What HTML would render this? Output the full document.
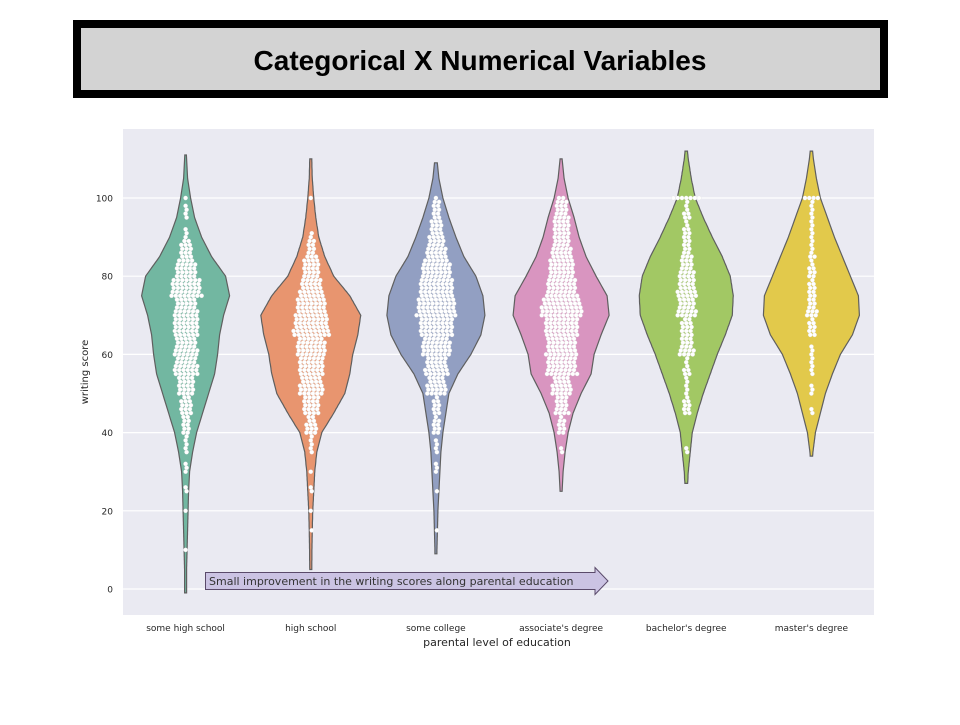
<!DOCTYPE html>
<html><head><meta charset="utf-8">
<style>
body{margin:0;background:#fff;width:960px;height:720px;overflow:hidden;font-family:"Liberation Sans",sans-serif}
svg text{font-family:"DejaVu Sans","Liberation Sans",sans-serif}
</style></head>
<body>
<svg id="c" width="960" height="720" xmlns="http://www.w3.org/2000/svg">
<rect x="73" y="20" width="815" height="78" fill="#000"/>
<rect x="81" y="28" width="799" height="62" fill="#d3d3d3"/>
<text x="480" y="70" text-anchor="middle" font-size="28" font-weight="bold" fill="#000" style="font-family:'Liberation Sans',sans-serif">Categorical X Numerical Variables</text>
<rect x="123" y="129" width="751" height="486" fill="#eaeaf2"/>
<g id="grid"></g><g id="violins"></g><g id="swarm"></g><g id="axes"></g>
<g>
<path d="M205.5,572.5 L595,572.5 L595,567.5 L608,581 L595,594.5 L595,589.5 L205.5,589.5 Z" fill="#cbc3e3" stroke="#5a4a6a" stroke-width="1"/>
<text x="209" y="585" font-size="11" fill="#333">Small improvement in the writing scores along parental education</text>
</g>
<text x="497" y="646" text-anchor="middle" font-size="11" fill="#262626">parental level of education</text>
<text transform="translate(88,372) rotate(-90)" text-anchor="middle" font-size="10" fill="#262626">writing score</text>
</svg>
<script>
const categories=["some high school","high school","some college","associate's degree","bachelor's degree","master's degree"];
const colors=["#72b7a1","#e8956f","#929fc2","#d995c0","#a2c864","#e2c94b"];
const yTicks=[0,20,40,60,80,100];
// violin half-widths (px) at scores 0,5,...,115
const widthsSomeHS=[1,1,1.5,2,2.5,3,4,7,11,17,23,29,32,34,38,44,40,26,16,9,5,2,1,0];
const widthsHS=[1,1,1.2,1.5,2,3,4,6,11,23,34,39,42,47,50,39,23,14,8,5,3,1.5,1,0];
const widthsCollege=[1,1,1,1.5,2,3,4,5,7,10,13,22,35,45,49,47,40,28,20,13,7,3,1,0];
const widthsAssoc=[0,0,0,0,0,1,2,4,7,12,20,30,33,40,48,46,35,25,18,13,7,3,1,0];
const widthsBach=[0,0,0,0,0,1,2,4,6,11,17,24,31,39,46,47,44,36,26,17,9,5,2,0];
const widthsMast=[0,0,0,0,0,0,0,1.5,4,9,14,21,29,41,48,47,39,31,23,16,9,5,2,0];
const violinWidths=[widthsSomeHS,widthsHS,widthsCollege,widthsAssoc,widthsBach,widthsMast];
const violinLo=[-1,5,9,25,27,34];
const violinHi=[111,110,109,110,112,112];
// swarm counts per 5-point score bin (0,5,...,100)
const countsSomeHS=[0,0,1,0,1,2,3,5,10,14,20,28,27,30,27,36,24,14,3,4,1];
const countsHS=[0,0,0,1,1,2,1,5,13,20,28,30,34,42,36,27,20,11,2,0,1];
const countsCollege=[0,0,0,1,0,1,3,4,9,9,23,27,34,40,46,40,34,23,16,10,1];
const countsAssoc=[0,0,0,0,0,0,0,2,9,16,23,36,36,40,48,36,30,23,20,16,2];
const countsBach=[0,0,0,0,0,0,0,2,0,9,5,7,17,14,22,22,17,11,8,7,7];
const countsMast=[0,0,0,0,0,0,0,0,0,2,3,5,3,9,12,9,8,6,5,5,4];
const swarmCounts=[countsSomeHS,countsHS,countsCollege,countsAssoc,countsBach,countsMast];

const NS="http://www.w3.org/2000/svg";
const X0=123,X1=874,Y0=129,Y1=615;
const yScale=v=>589-v*3.91;
const xScale=i=>X0+(X1-X0)*(i+0.5)/categories.length;
function mk(t,a,p){const e=document.createElementNS(NS,t);for(const k in a)e.setAttribute(k,a[k]);p.appendChild(e);return e;}
const grid=document.getElementById('grid'),axes=document.getElementById('axes');
yTicks.forEach(t=>{
  const l=mk('line',{x1:X0,x2:X1,y1:yScale(t),y2:yScale(t),stroke:'#fff','stroke-width':1.2},grid);
  
  
  const tx=mk('text',{x:113,y:yScale(t)+3.5,'text-anchor':'end','font-size':9,fill:'#262626'},axes);
  tx.textContent=t;
  
  
});
categories.forEach((c,i)=>{
  const tx=mk('text',{x:xScale(i),y:631,'text-anchor':'middle','font-size':9,fill:'#262626'},axes);
  tx.textContent=c;
  
  
});
function hw(w,s){const f=s/5;const i=Math.floor(f);if(i<0)return w[0];if(i>=w.length-1)return w[w.length-1];return w[i]+(w[i+1]-w[i])*(f-i);}
const vg=document.getElementById('violins'),sg=document.getElementById('swarm');
categories.forEach((c,i)=>{
  const cx=xScale(i),w=violinWidths[i],lo=violinLo[i],hi=violinHi[i];
  const R=[],L=[];
  for(let s=hi;s>=lo;s-=0.5){const h=Math.max(0.8,hw(w,s));R.push([cx+h,yScale(s)]);L.push([cx-h,yScale(s)]);}
  const pts=R.concat(L.reverse());
  const p=mk('path',{d:'M'+pts.map(q=>q[0].toFixed(1)+','+q[1].toFixed(1)).join('L')+'Z',fill:colors[i],stroke:'#5f5f5f','stroke-width':1.2},vg);
  
  
  const cnt=swarmCounts[i];
  cnt.forEach((n,b)=>{
    const rows=(b===cnt.length-1)?1:5;
    for(let j=0;j<rows;j++){
      const k=Math.floor((n+(rows-1-j))/rows);
      if(!k)continue;
      const s=b*5+j;
      for(let m=0;m<k;m++){
        const off=(m-(k-1)/2)*4.3+((s%2)?1:0);
        const d=mk('circle',{cx:cx+off,cy:yScale(s),r:2.1,fill:'#fff',stroke:'#ddd','stroke-width':0.3},sg);
        
        
      }
    }
  });
});
</script>
</body></html>
